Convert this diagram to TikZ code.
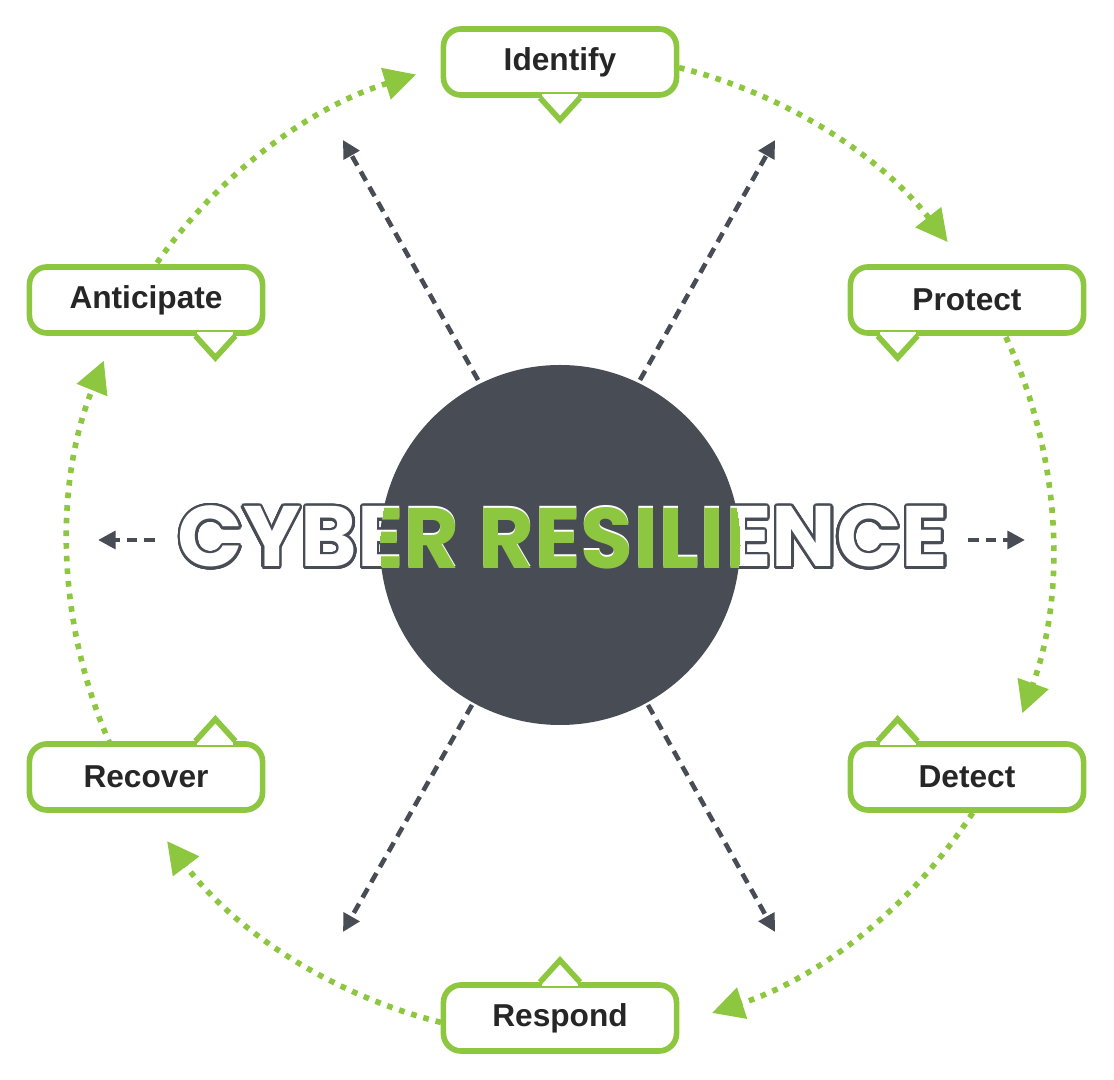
\documentclass[tikz,border=0pt]{standalone}
\usepackage{fontspec}
\setmainfont{Poppins}
\newfontfamily\boxfont{Liberation Sans}
\usepackage[copies]{contour}
\usetikzlibrary{arrows.meta,positioning}
\definecolor{leaf}{HTML}{8DC63F}
\definecolor{slate}{HTML}{474C55}
\contourlength{0.7pt}
\contournumber{32}
\tikzset{
  stage/.style={draw=leaf, line width=1.6pt, fill=white, rounded corners=5pt, text=black!85,
    minimum width=2.33cm, minimum height=0.66cm, font=\boxfont\bfseries\fontsize{9}{10}\selectfont},
  notch/.style={draw=leaf, line width=1.6pt, fill=white, line join=miter},
  gap/.style={white, line width=2pt},
  cycle/.style={leaf, line width=1.6pt, dotted, -{Triangle[length=9pt,width=9pt]}},
  spoke/.style={slate, line width=1.3pt, dashed, dash pattern=on 3pt off 2pt, -{Triangle[length=5pt,width=5pt]}}
}
\newcommand{\cyberword}{\resizebox{7.7cm}{0.61cm}{\bfseries CYBER RESILIENCE}}
\begin{document}
\begin{tikzpicture}[x=0.01cm,y=-0.01cm]
  \useasboundingbox (0,0) rectangle (1114,1080);
  \coordinate (hub) at (560,545);
  % cycle
  \draw[cycle] (hub) ++(-76:492) arc[start angle=-76, end angle=-38, radius=492];
  \draw[cycle] (hub) ++(-25:492) arc[start angle=-25, end angle=20, radius=492];
  \draw[cycle] (hub) ++(33:492) arc[start angle=33, end angle=72, radius=492];
  \draw[cycle] (hub) ++(104:492) arc[start angle=104, end angle=143, radius=492];
  \draw[cycle] (hub) ++(-204:492) arc[start angle=-204, end angle=-158, radius=492];
  \draw[cycle] (hub) ++(-145:492) arc[start angle=-145, end angle=-107, radius=492];
  % stages
  \node[stage] (identify) at (560,62) {Identify};
  \node[stage] (protect) at (967,300) {Protect};
  \node[stage] (anticipate) at (146,300) {Anticipate};
  \node[stage] (recover) at (146,777) {Recover};
  \node[stage] (detect) at (967,777) {Detect};
  \node[stage] (respond) at (560,1018) {Respond};
  % pointers
  \draw[gap] (identify.south) ++(-18,0) -- ++(36,0);
  \draw[notch] (identify.south) ++(-20,0) -- ++(20,22) -- ++(20,-22);
  \draw[gap] (protect.south west) ++(32,0) -- ++(36,0);
  \draw[notch] (protect.south west) ++(30,0) -- ++(20,22) -- ++(20,-22);
  \draw[gap] (anticipate.south east) ++(-68,0) -- ++(36,0);
  \draw[notch] (anticipate.south east) ++(-70,0) -- ++(20,22) -- ++(20,-22);
  \draw[gap] (recover.north east) ++(-68,0) -- ++(36,0);
  \draw[notch] (recover.north east) ++(-70,0) -- ++(20,-22) -- ++(20,22);
  \draw[gap] (detect.north west) ++(32,0) -- ++(36,0);
  \draw[notch] (detect.north west) ++(30,0) -- ++(20,-22) -- ++(20,22);
  \draw[gap] (respond.north) ++(-18,0) -- ++(36,0);
  \draw[notch] (respond.north) ++(-20,0) -- ++(20,-22) -- ++(20,22);
  % centre
  \fill[slate] (hub) circle[radius=180];
  \coordinate (ul) at (343,140);
  \coordinate (ur) at (775,140);
  \coordinate (ll) at (343,932);
  \coordinate (lr) at (775,932);
  \coordinate (lt) at (98,540);
  \coordinate (rt) at (1025,540);
  \draw[spoke] (478,380) -- (ul);
  \draw[spoke] (640,380) -- (ur);
  \draw[spoke] (472,705) -- (ll);
  \draw[spoke] (648,705) -- (lr);
  \draw[spoke] (155,540) -- (lt);
  \draw[spoke] (968,540) -- (rt);
  \node[inner sep=0] (title) at (563,538) {\contour{slate}{\textcolor{white}{\cyberword}}};
  \begin{scope}
    \clip (hub) circle[radius=180];
    \node[inner sep=0, text=leaf] at (title) {\cyberword};
  \end{scope}
\end{tikzpicture}
\end{document}
